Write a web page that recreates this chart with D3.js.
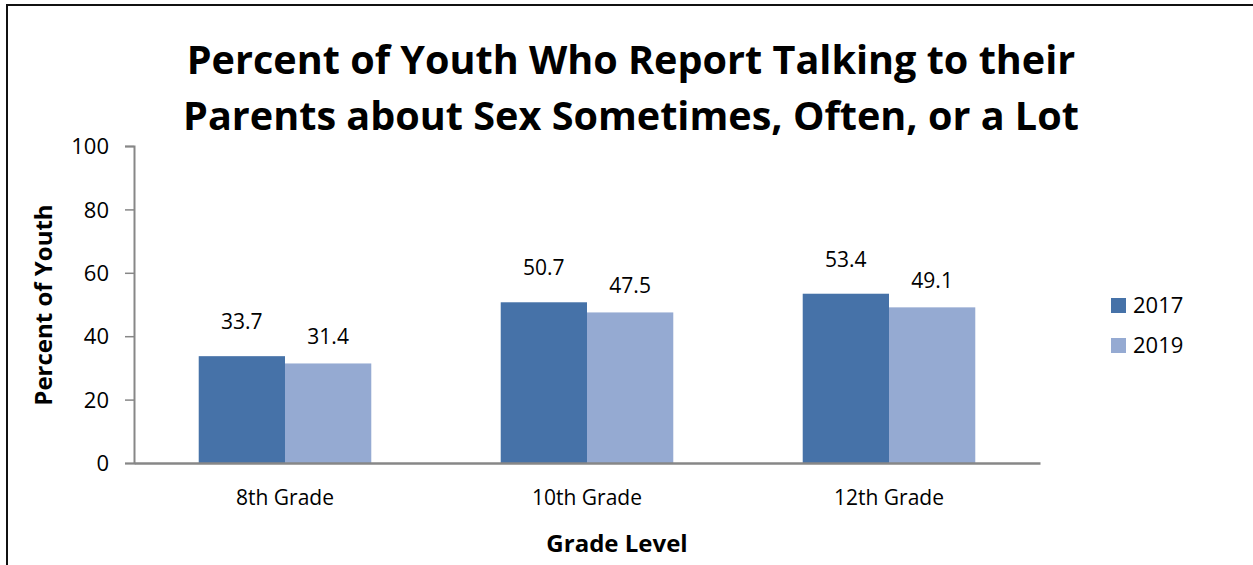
<!DOCTYPE html>
<html>
<head>
<meta charset="utf-8">
<script src="https://cdn.jsdelivr.net/npm/d3@7"></script>
<style>
  html, body { margin: 0; padding: 0; background: #fff; }
  svg { display: block; }
  text { font-family: "Open Sans", sans-serif; fill: #000; }
</style>
</head>
<body>
<svg id="chart" width="1253" height="565"></svg>
<script>
const categories = ["8th Grade", "10th Grade", "12th Grade"];
const seriesNames = ["2017", "2019"];
const values2017 = [33.7, 50.7, 53.4];
const values2019 = [31.4, 47.5, 49.1];
const yTicks = [0, 20, 40, 60, 80, 100];
const titleLines = ["Percent of Youth Who Report Talking to their", "Parents about Sex Sometimes, Often, or a Lot"];
const colors = ["#4672A8", "#95AAD2"];

const FONT = "'Open Sans', sans-serif";
const svg = d3.select("#chart");
const W = 1253, H = 565;
const plot = { left: 134, right: 1040, top: 146, bottom: 463 };

// outer border
svg.append("rect").attr("x", 7).attr("y", 5).attr("width", W + 20).attr("height", H + 20)
  .attr("fill", "#fff").attr("stroke", "#111").attr("stroke-width", 2);

const x0 = d3.scaleBand().domain(categories).range([plot.left, plot.right]).paddingInner(0.4286).paddingOuter(0.2143);
const x1 = d3.scaleBand().domain(seriesNames).range([0, x0.bandwidth()]);
const y = d3.scaleLinear().domain([0, 100]).range([plot.bottom, plot.top]);

const data = categories.map((c, i) => ({ cat: c, vals: [
  { s: seriesNames[0], v: values2017[i], k: 0 },
  { s: seriesNames[1], v: values2019[i], k: 1 }
]}));

// bars
const groups = svg.append("g").selectAll("g").data(data).join("g")
  .attr("transform", d => `translate(${x0(d.cat)},0)`);
groups.selectAll("rect").data(d => d.vals).join("rect")
  .attr("x", d => x1(d.s)).attr("y", d => y(d.v))
  .attr("width", x1.bandwidth()).attr("height", d => y(0) - y(d.v))
  .attr("fill", d => colors[d.k]);
const labelOffset = [27, 19];
groups.selectAll("text").data(d => d.vals).join("text")
  .attr("x", d => x1(d.s) + x1.bandwidth() / 2)
  .attr("y", d => y(d.v) - labelOffset[d.k])
  .attr("text-anchor", "middle").attr("font-size", 21)
  .text(d => d.v.toFixed(1));

// y axis
const yAxis = svg.append("g").attr("transform", `translate(${plot.left},0)`)
  .call(d3.axisLeft(y).tickValues(yTicks).tickSize(9).tickPadding(16));
yAxis.select(".domain").attr("stroke", "#878787").attr("stroke-width", 2);
yAxis.selectAll(".tick line").attr("stroke", "#878787").attr("stroke-width", 1.5);
yAxis.selectAll(".tick text").attr("font-size", 22).attr("font-family", FONT).attr("fill", "#000").attr("dy", "0.35em");

// x axis
const xAxis = svg.append("g").attr("transform", `translate(0,${plot.bottom})`)
  .call(d3.axisBottom(x0).tickSize(0).tickPadding(27));
xAxis.select(".domain").attr("stroke", "#878787").attr("stroke-width", 2.5);
xAxis.selectAll(".tick text").attr("font-size", 21).attr("font-family", FONT).attr("fill", "#000");

// axis titles
svg.append("text").attr("x", 617).attr("y", 552)
  .attr("text-anchor", "middle").attr("font-size", 24).attr("font-weight", "bold").text("Grade Level");
svg.append("text").attr("transform", "translate(52,305) rotate(-90)")
  .attr("text-anchor", "middle").attr("font-size", 24).attr("font-weight", "bold").text("Percent of Youth");

// title
svg.append("g").selectAll("text").data(titleLines).join("text")
  .attr("x", 631).attr("y", (d, i) => 74 + i * 56)
  .attr("text-anchor", "middle").attr("font-size", 39.6).attr("font-weight", "bold")
  .text(d => d);

// legend
const legend = svg.append("g").selectAll("g").data(seriesNames).join("g")
  .attr("transform", (d, i) => `translate(1111,${298 + i * 40})`);
legend.append("rect").attr("width", 15).attr("height", 15).attr("fill", (d, i) => colors[i]);
legend.append("text").attr("x", 22).attr("y", 15).attr("font-size", 22).text(d => d);
</script>
</body>
</html>
